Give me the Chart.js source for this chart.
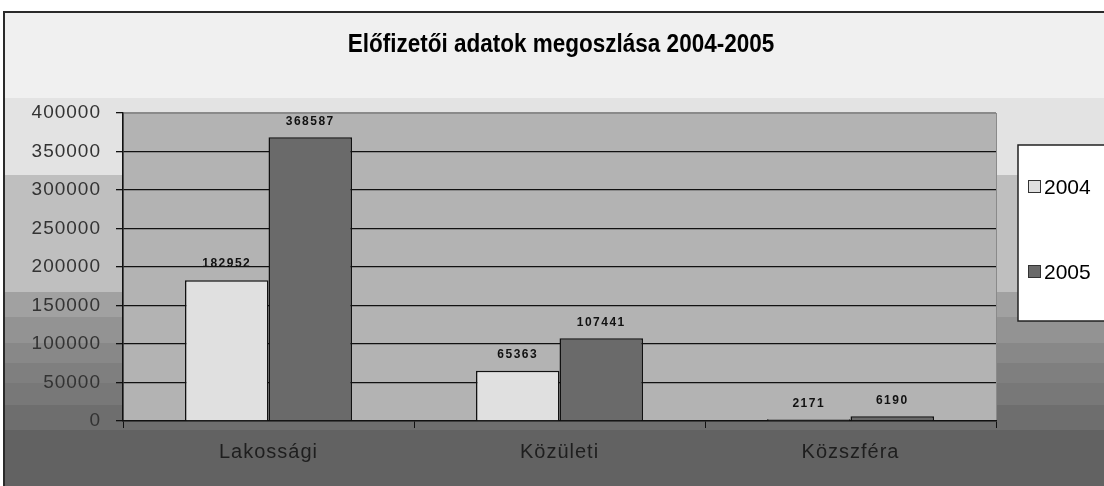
<!DOCTYPE html>
<html>
<head>
<meta charset="utf-8">
<script src="https://cdn.jsdelivr.net/npm/chart.js@4/dist/chart.umd.min.js"></script>
<style>
  html, body { margin: 0; padding: 0; background: #fff; }
  canvas { display: block; }
</style>
</head>
<body>
<canvas id="chart" width="1104" height="486"></canvas>
<script>
const categories = ['Lakossági', 'Közületi', 'Közszféra'];
const seriesNames = ['2004', '2005'];
const values2004 = [182952, 65363, 2171];
const values2005 = [368587, 107441, 6190];
const yMax = 400000;
const yStep = 50000;
const chartTitle = 'Előfizetői adatok megoszlása 2004-2005';

const seriesColors = ['#e0e0e0', '#6a6a6a'];

// horizontal bands of the window background (top y, colour)
const bands = [
    [12, '#f0f0f0'], [98, '#e3e3e3'], [175, '#bfbfbf'], [292, '#a1a1a1'],
    [317, '#939393'], [343, '#888888'], [363, '#7f7f7f'], [383, '#787878'],
    [405, '#6e6e6e'], [430, '#626262']
];

const backdrop = {
    id: 'backdrop',
    beforeDraw(chart) {
        const ctx = chart.ctx;
        const a = chart.chartArea;
        ctx.save();
        ctx.fillStyle = '#fff';
        ctx.fillRect(0, 0, chart.width, chart.height);
        bands.forEach((b, i) => {
            const next = i + 1 < bands.length ? bands[i + 1][0] : chart.height;
            ctx.fillStyle = b[1];
            ctx.fillRect(4, b[0], chart.width, next - b[0]);
        });
        ctx.strokeStyle = '#2a2a2a';
        ctx.lineWidth = 2;
        ctx.strokeRect(4, 12, chart.width + 10, chart.height + 10);
        ctx.fillStyle = '#b3b3b3';
        ctx.fillRect(a.left, a.top, a.right - a.left, a.bottom - a.top);
        ctx.strokeStyle = '#8a8a8a';
        ctx.lineWidth = 1;
        ctx.strokeRect(a.left + 0.5, a.top + 0.5, a.right - a.left, a.bottom - a.top);
        ctx.restore();
        ctx.letterSpacing = '1px';
    }
};

const extras = {
    id: 'extras',
    afterDraw(chart) {
        const ctx = chart.ctx;
        ctx.save();
        // title, squeezed like the narrow original face
        ctx.letterSpacing = '0px';
        ctx.fillStyle = '#000';
        ctx.font = "bold 25px 'Liberation Sans', Arial, sans-serif";
        ctx.textAlign = 'center';
        ctx.textBaseline = 'middle';
        ctx.save();
        ctx.translate(561, 45);
        ctx.scale(0.9, 1);
        ctx.fillText(chartTitle, 0, 0);
        ctx.restore();

        // value labels
        ctx.font = "bold 12px 'Liberation Sans', Arial, sans-serif";
        ctx.letterSpacing = '1.5px';
        ctx.fillStyle = '#111';
        ctx.textBaseline = 'bottom';
        chart.data.datasets.forEach((ds, di) => {
            chart.getDatasetMeta(di).data.forEach((el, i) => {
                ctx.fillText(String(ds.data[i]), el.x, el.y - 10);
            });
        });

        // legend
        ctx.letterSpacing = '0px';
        ctx.fillStyle = '#fff';
        ctx.fillRect(1018, 145, 100, 176);
        ctx.strokeStyle = '#222';
        ctx.lineWidth = 1.5;
        ctx.strokeRect(1018, 145, 100, 176);
        ctx.font = "21px 'Liberation Sans', Arial, sans-serif";
        ctx.textAlign = 'left';
        ctx.textBaseline = 'middle';
        const rows = [187, 272];
        seriesNames.forEach((name, i) => {
            ctx.fillStyle = seriesColors[i];
            ctx.fillRect(1028.5, rows[i] - 6.5, 12, 12);
            ctx.strokeStyle = '#333';
            ctx.lineWidth = 1;
            ctx.strokeRect(1028.5, rows[i] - 6.5, 12, 12);
            ctx.fillStyle = '#000';
            ctx.fillText(name, 1044, rows[i] + 1);
        });
        ctx.restore();
    }
};

new Chart(document.getElementById('chart'), {
    type: 'bar',
    data: {
        labels: categories,
        datasets: [
            { label: seriesNames[0], data: values2004, backgroundColor: seriesColors[0] },
            { label: seriesNames[1], data: values2005, backgroundColor: seriesColors[1] }
        ]
    },
    options: {
        responsive: false,
        animation: false,
        devicePixelRatio: 1,
        layout: { padding: { top: 113, right: 108, left: 0, bottom: 0 } },
        datasets: {
            bar: {
                categoryPercentage: 0.574,
                barPercentage: 1,
                borderColor: '#111',
                borderWidth: 1.5
            }
        },
        plugins: {
            legend: { display: false },
            title: { display: false },
            tooltip: { enabled: false }
        },
        scales: {
            x: {
                afterFit(s) { s.height = 65; },
                grid: {
                    offset: true,
                    drawOnChartArea: false,
                    drawTicks: true,
                    tickLength: 7,
                    tickColor: '#111'
                },
                border: { color: '#111', width: 1.5 },
                ticks: {
                    color: '#1e1e1e',
                    padding: 12,
                    font: { family: "'Liberation Sans', Arial, sans-serif", size: 20 }
                }
            },
            y: {
                min: 0,
                max: yMax,
                afterFit(s) { s.width = 123; },
                grid: {
                    color: (c) => (c.tick && c.tick.value === yMax ? '#8a8a8a' : '#111'),
                    lineWidth: 1.3,
                    tickLength: 7,
                    tickColor: '#111'
                },
                border: { color: '#111', width: 1.5 },
                ticks: {
                    stepSize: yStep,
                    color: '#333',
                    padding: 15,
                    callback: (v) => String(v),
                    font: { family: "'Liberation Sans', Arial, sans-serif", size: 19 }
                }
            }
        }
    },
    plugins: [backdrop, extras]
});
</script>
</body>
</html>
